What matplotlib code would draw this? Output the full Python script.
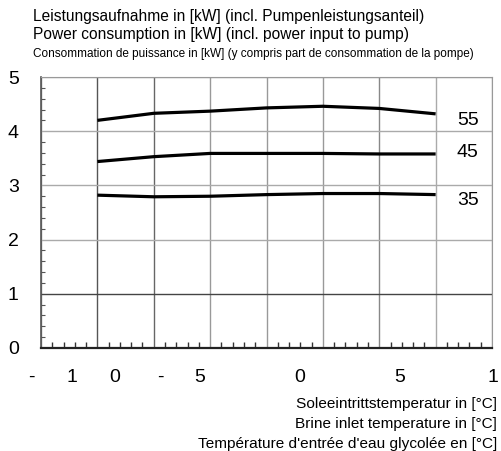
import numpy as np
import matplotlib.pyplot as plt

plt.rcParams['font.family'] = ['Liberation Sans', 'DejaVu Sans']

# brine inlet temperature (grid steps of 5 K)
temp = [-5, 0, 5, 10, 15, 20, 25]
# power consumption per flow temperature
curves = {
    '55': [4.20, 4.33, 4.37, 4.43, 4.46, 4.42, 4.32],
    '45': [3.44, 3.53, 3.59, 3.59, 3.59, 3.58, 3.58],
    '35': [2.82, 2.79, 2.80, 2.83, 2.85, 2.85, 2.83],
}
label_y = {'55': 4.2, '45': 3.6, '35': 2.73}

# x tick label characters as they appear in the source
xlab_txt = ['-', '1', '0', '-', '5', '0', '5', '1']
xlab_pos = [-10.89, -7.25, -3.44, 0.55, 4.10, 12.96, 21.83, 30.07]

title_lines = [
    'Leistungsaufnahme in [kW] (incl. Pumpenleistungsanteil)',
    'Power consumption in [kW] (incl. power input to pump)',
    'Consommation de puissance in [kW] (y compris part de consommation de la pompe)',
]
xlabel_lines = [
    'Soleeintrittstemperatur in [°C]',
    'Brine inlet temperature in [°C]',
    "Température d'entrée d'eau glycolée en [°C]",
]

fig = plt.figure(figsize=(5.01, 4.51), dpi=100)
ax = fig.add_axes([41 / 501, 1 - 348 / 451, 451 / 501, 271 / 451])

for key, vals in curves.items():
    ax.plot(temp, vals, color='black', lw=2.3, solid_capstyle='butt')
    ax.text(27.85, label_y[key], key, fontsize=14, ha='center', va='center')

ax.set_xlim(-10, 30)
ax.set_ylim(0, 5)
ax.set_xticks(np.arange(-10, 31, 5))
ax.set_xticks(np.arange(-10, 31, 1), minor=True)
ax.set_yticks(np.arange(0, 6, 1))
ax.set_yticks(np.arange(0, 5.01, 0.2), minor=True)
ax.set_xticklabels([])
ax.tick_params(axis='x', which='major', length=0)
ax.tick_params(axis='x', which='minor', direction='in', length=4, width=1, color='#333333')
ax.tick_params(axis='y', which='major', length=0, pad=16, labelsize=14)
ax.tick_params(axis='y', which='minor', direction='in', length=3, width=0.8, color='#555555')
ax.grid(True, which='major', color='#8a8a8a', lw=1)

for gl, c in zip(ax.xaxis.get_gridlines(), ['#888', '#555', '#666', '#999', '#999', '#999', '#888', '#aaa', '#999']):
    gl.set_color(c)
for gl, c in zip(ax.yaxis.get_gridlines(), ['#333', '#444', '#aaa', '#aaa', '#aaa', '#999']):
    gl.set_color(c)

ax.spines['bottom'].set_color('#222222')
ax.spines['bottom'].set_linewidth(1.6)
ax.spines['left'].set_color('#555555')
ax.spines['left'].set_linewidth(1.2)
ax.spines['top'].set_color('#999999')
ax.spines['right'].set_color('#999999')

for t, x in zip(xlab_txt, xlab_pos):
    ax.text(x, -0.54, t, fontsize=14, ha='center', va='center', clip_on=False)

fig.text(33 / 501, 1 - 16 / 451, title_lines[0], fontsize=11.2, va='center', ha='left')
fig.text(33 / 501, 1 - 34 / 451, title_lines[1], fontsize=11.2, va='center', ha='left')
fig.text(33 / 501, 1 - 54 / 451, title_lines[2], fontsize=8.5, va='center', ha='left')

for i, line in enumerate(xlabel_lines):
    fig.text(497 / 501, 1 - (404 + i * 20) / 451, line, fontsize=11.1, va='center', ha='right')

fig.savefig('out.png', dpi=100)
